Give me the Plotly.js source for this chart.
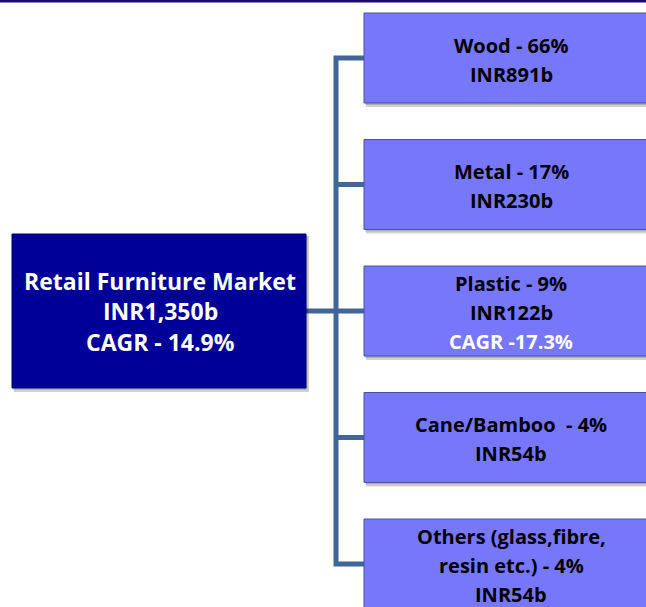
<!DOCTYPE html>
<html>
<head>
<meta charset="utf-8">
<script src="https://cdn.plot.ly/plotly-3.0.1.min.js"></script>
<style>html,body{margin:0;padding:0;background:#fff;}#chart{width:646px;height:607px;}</style>
</head>
<body>
<div id="chart"></div>
<script>
// ---- data ----
const rootLines = ["Retail Furniture Market", "INR1,350b", "CAGR - 14.9%"];
const segments = ["Wood", "Metal", "Plastic", "Cane/Bamboo ", "Others (glass,fibre,|resin etc.)"];
const shares = [66, 17, 9, 4, 4];
const values = [891, 230, 122, 54, 54];
const segCagr = [null, null, 17.3, null, null];

// ---- layout geometry (pixel-like data coords) ----
const W = 646, H = 607;
const root = {x0: 12, x1: 306, y0: 234, y1: 388};
const child = {x0: 364, x1: 658, h: 90, top: 13, pitch: 126.5};
const trunkX = 336;
const FONT = "'Open Sans', sans-serif";

const shapes = [];
const annotations = [];

// top band
shapes.push({type: "rect", xref: "x", yref: "y", x0: 0, x1: W, y0: 0, y1: 2.5, fillcolor: "#1c0b6e", line: {width: 0}, layer: "above"});

function box(x0, x1, y0, y1, fill, border) {
  shapes.push({type: "rect", xref: "x", yref: "y", x0: x0 + 2, x1: x1 + 3, y0: y0 + 2, y1: y1 + 4,
    fillcolor: "rgba(0,0,0,0.18)", line: {width: 0}, layer: "below"});
  shapes.push({type: "rect", xref: "x", yref: "y", x0: x0 + 1, x1: x1 + 1.5, y0: y0 + 1, y1: y1 + 2,
    fillcolor: "rgba(0,0,0,0.15)", line: {width: 0}, layer: "below"});
  shapes.push({type: "rect", xref: "x", yref: "y", x0: x0, x1: x1, y0: y0, y1: y1,
    fillcolor: fill, line: {color: border, width: 1}, layer: "below"});
}

// connectors
const centers = segments.map((s, i) => child.top + i * child.pitch + child.h / 2);
const lineStyle = {color: "#41679a", width: 5};
const rootMid = (root.y0 + root.y1) / 2;
const last = centers.length - 1;
shapes.push({type: "path", xref: "x", yref: "y",
  path: `M ${child.x0},${centers[0]} L ${trunkX},${centers[0]} L ${trunkX},${centers[last]} L ${child.x0},${centers[last]}`,
  line: lineStyle, layer: "below"});
for (let i = 1; i < last; i++) {
  shapes.push({type: "line", xref: "x", yref: "y", x0: trunkX, x1: child.x0, y0: centers[i], y1: centers[i], line: lineStyle, layer: "below"});
}
shapes.push({type: "line", xref: "x", yref: "y", x0: root.x1, x1: trunkX, y0: rootMid, y1: rootMid, line: lineStyle, layer: "below"});

// root box
box(root.x0, root.x1, root.y0, root.y1, "#000099", "#00006a");
const rootCx = (root.x0 + root.x1) / 2 + 1;
const rootLineH = 30.5;
rootLines.forEach((t, k) => {
  annotations.push({xref: "x", yref: "y", x: rootCx, y: rootMid + (k - 1) * rootLineH, text: "<b>" + t + "</b>",
    showarrow: false, xanchor: "center", yanchor: "middle",
    font: {family: FONT, size: 23, color: "#ffffff"}});
});

// child boxes
const childCx = 511;
const lineH = 29;
segments.forEach((s, i) => {
  const y0 = child.top + i * child.pitch;
  box(child.x0, child.x1, y0, y0 + child.h, "#7777fc", "#4f4fa8");
  const parts = s.split("|");
  const lines = [];
  parts.forEach((p, j) => {
    if (j === parts.length - 1) lines.push({t: p + " - " + shares[i] + "%", c: "#000000"});
    else lines.push({t: p, c: "#000000"});
  });
  lines.push({t: "INR" + values[i] + "b", c: "#000000"});
  if (segCagr[i] !== null) lines.push({t: "CAGR -" + segCagr[i] + "%", c: "#ffffff"});
  const first = lines.length === 2 ? y0 + 32 : y0 + 17.5;
  lines.forEach((ln, k) => {
    annotations.push({xref: "x", yref: "y", x: childCx, y: first + k * lineH, text: "<b>" + ln.t + "</b>",
      showarrow: false, xanchor: "center", yanchor: "middle",
      font: {family: FONT, size: 20, color: ln.c}});
  });
});

const layout = {
  width: W, height: H,
  margin: {l: 0, r: 0, t: 0, b: 0},
  paper_bgcolor: "#ffffff", plot_bgcolor: "#ffffff",
  xaxis: {range: [0, W], visible: false, fixedrange: true},
  yaxis: {range: [H, 0], visible: false, fixedrange: true},
  showlegend: false,
  shapes: shapes,
  annotations: annotations
};

Plotly.newPlot("chart", [{x: [0], y: [0], mode: "markers", marker: {opacity: 0}, hoverinfo: "skip"}], layout, {staticPlot: true, displayModeBar: false});
</script>
</body>
</html>
